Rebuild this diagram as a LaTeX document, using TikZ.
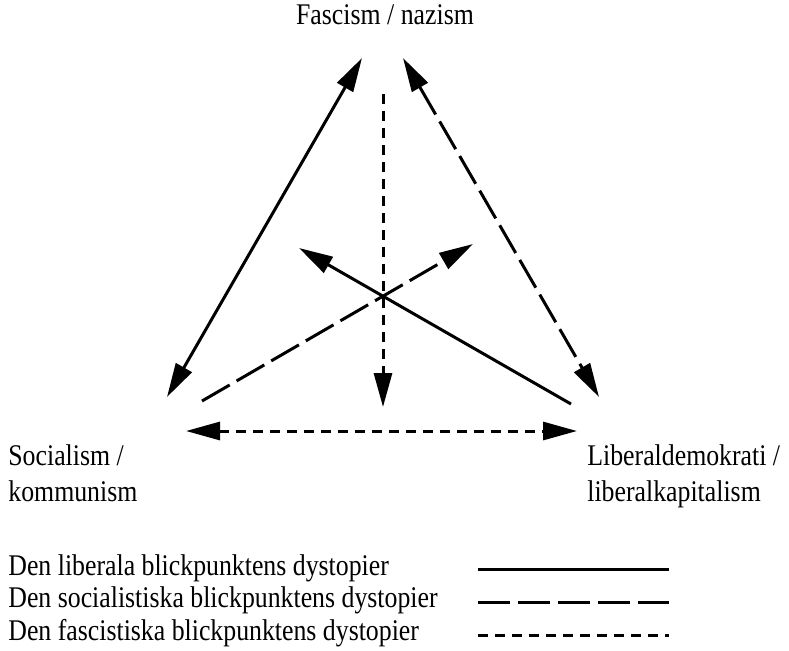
\documentclass[tikz,border=0pt]{standalone}
\usepackage{fontspec}
\setmainfont[FakeStretch=0.86]{Liberation Serif}
\usetikzlibrary{arrows.meta, positioning}

\tikzset{
  base line/.style = {line width=1.5pt},
  liberal/.style = {base line},
  socialist/.style = {base line, dash pattern=on 16pt off 4pt},
  fascist/.style = {base line, dash pattern=on 5pt off 3.5pt},
  tip/.style = {-{Triangle[length=17pt, width=9pt]}},
  twotips/.style = {{Triangle[length=17pt, width=9pt]}-{Triangle[length=17pt, width=9pt]}},
  label/.style = {inner sep=0pt, align=left, font=\fontsize{15pt}{18pt}\selectfont}
}

\begin{document}
\begin{tikzpicture}[x=0.5pt, y=-0.5pt]
    \useasboundingbox (0,0) rectangle (789,650);

    % the three ideologies
    \node[label, anchor=north] (fascism) at (385,4) {Fascism / nazism};
    \node[label, anchor=north west] (socialism) at (8,444) {Socialism /\\kommunism};
    \node[label, anchor=north west] (liberal) at (587,444) {Liberaldemokrati /\\liberalkapitalism};

    % end points of the arrows
    \coordinate (leftTop) at (362,58);
    \coordinate (leftBottom) at (167,397);
    \coordinate (rightTop) at (403,58);
    \coordinate (rightBottom) at (599,397);
    \coordinate (midTop) at (383,94);
    \coordinate (midBottom) at (383,407);
    \coordinate (baseLeft) at (186,431);
    \coordinate (baseRight) at (577,431);
    \coordinate (libStart) at (571,404);
    \coordinate (libEnd) at (299,248);
    \coordinate (socStart) at (202,401);
    \coordinate (socEnd) at (473,244);

    \draw[liberal, twotips] (leftTop) -- (leftBottom);
    \draw[socialist, twotips] (rightTop) -- (rightBottom);
    \draw[fascist, tip] (midTop) -- (midBottom);
    \draw[fascist, twotips] (baseLeft) -- (baseRight);
    \draw[liberal, tip] (libStart) -- (libEnd);
    \draw[socialist, tip] (socStart) -- (socEnd);

    % legend
    \node[label, anchor=base west] (keyLib) at (8,575) {Den liberala blickpunktens dystopier};
    \node[label, anchor=base west] (keySoc) at (8,607.5) {Den socialistiska blickpunktens dystopier};
    \node[label, anchor=base west] (keyFas) at (8,640) {Den fascistiska blickpunktens dystopier};

    \coordinate (libA) at (478,569);
    \coordinate (libB) at (669,569);
    \coordinate (socA) at (478,602);
    \coordinate (socB) at (669,602);
    \coordinate (fasA) at (478,635);
    \coordinate (fasB) at (669,635);

    \draw[liberal] (libA) -- (libB);
    \draw[socialist] (socA) -- (socB);
    \draw[fascist] (fasA) -- (fasB);
\end{tikzpicture}
\end{document}
